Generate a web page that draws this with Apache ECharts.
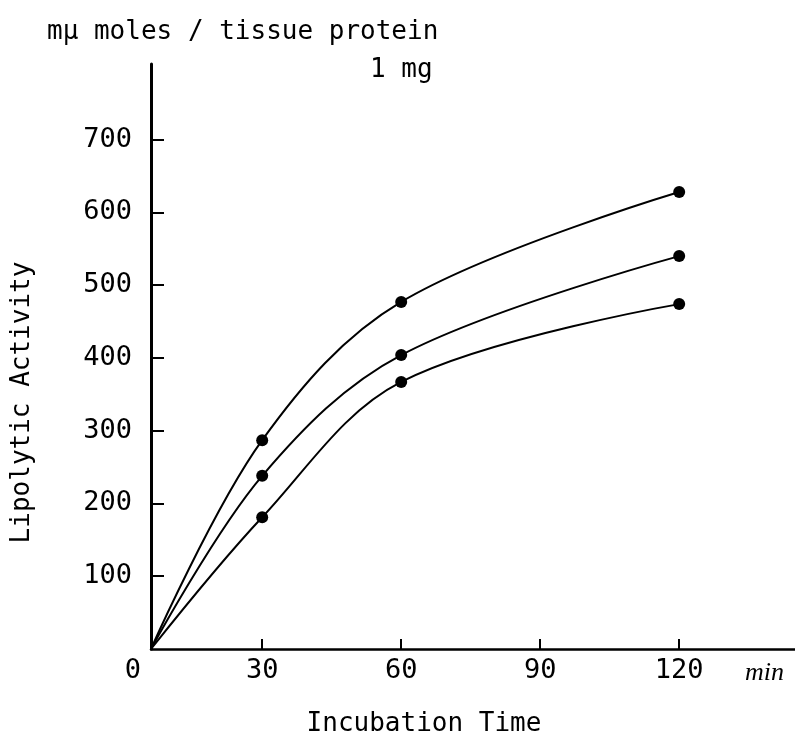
<!DOCTYPE html>
<html>
<head>
<meta charset="utf-8">
<script src="https://cdn.jsdelivr.net/npm/echarts@6/dist/echarts.min.js"></script>
<style>
html,body{margin:0;padding:0;background:#fff;}
#c{width:795px;height:742px;}
</style>
</head>
<body>
<div id="c"></div>
<script>
// ---- data ----
const times = [6, 30, 60, 120];          // x position (min); 6 = where curves leave the axis corner
const seriesTop = [0, 287, 477, 628];
const seriesMid = [0, 238, 404, 540];
const seriesLow = [0, 181, 367, 474];
const xTickValues = [30, 60, 90, 120];
const yTickValues = [100, 200, 300, 400, 500, 600, 700];
const xMin = 6, xMax = 145, yMin = 0, yMax = 804;

const FONT = 'DejaVu Sans Mono';
const chart = echarts.init(document.getElementById('c'), null, {renderer: 'canvas'});

function toPoints(vals) {
  return vals.map((v, i) => {
    const p = {value: [times[i], v]};
    if (i === 0) p.symbol = 'none';
    return p;
  });
}
function mkSeries(vals) {
  return {
    type: 'line',
    data: toPoints(vals),
    smooth: 0.35,
    symbol: 'circle',
    symbolSize: 12,
    lineStyle: {color: '#000', width: 2},
    itemStyle: {color: '#000'},
    z: 3
  };
}
const txt = {fontFamily: FONT, fontWeight: 'normal', fontSize: 26, color: '#000'};
const num = {fontFamily: FONT, fontWeight: 'normal', fontSize: 27, color: '#000'};

chart.setOption({
  backgroundColor: '#fff',
  animation: false,
  title: [
    {text: 'mμ moles / tissue protein', left: 42, top: 14, textStyle: txt},
    {text: '1 mg', left: 365, top: 52, textStyle: txt},
    {text: 'min', left: 740, top: 655,
     textStyle: {fontFamily: 'Liberation Serif', fontStyle: 'italic', fontWeight: 'normal', fontSize: 26, color: '#000'}}
  ],
  grid: {left: 151, right: 0, top: 64, bottom: 93, containLabel: false},
  xAxis: {
    type: 'value', min: xMin, max: xMax,
    name: 'Incubation Time', nameLocation: 'middle', nameGap: 62,
    nameTextStyle: Object.assign({}, txt, {verticalAlign: 'top', padding: [0, 98, 0, 0]}),
    axisLine: {show: true, lineStyle: {color: '#000', width: 2.5}},
    axisTick: {show: true, inside: true, length: 10, customValues: xTickValues,
               lineStyle: {color: '#000', width: 2}},
    axisLabel: Object.assign({}, num, {
      show: true, margin: 8, customValues: [xMin].concat(xTickValues),
      formatter: v => v === xMin ? '{z|0}' : String(v),
      rich: {z: Object.assign({}, num, {padding: [0, 36, 0, 0]})}
    }),
    splitLine: {show: false}
  },
  yAxis: {
    type: 'value', min: yMin, max: yMax,
    name: 'Lipolytic Activity', nameLocation: 'middle', nameGap: 116, nameRotate: 90,
    nameTextStyle: Object.assign({}, txt, {padding: [0, 92, 0, 0]}),
    axisLine: {show: true, lineStyle: {color: '#000', width: 3}},
    axisTick: {show: true, inside: true, length: 13, customValues: yTickValues,
               lineStyle: {color: '#000', width: 2}},
    axisLabel: Object.assign({}, num, {show: true, margin: 19, customValues: yTickValues}),
    splitLine: {show: false}
  },
  series: [mkSeries(seriesTop), mkSeries(seriesMid), mkSeries(seriesLow)]
});
</script>
</body>
</html>
